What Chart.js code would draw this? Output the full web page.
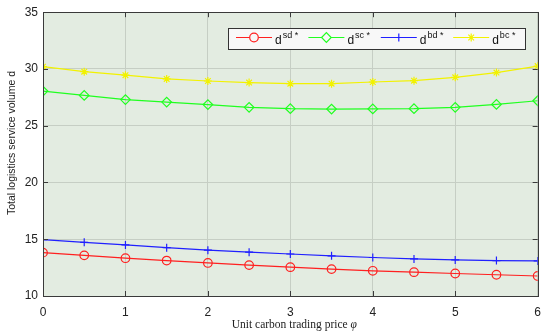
<!DOCTYPE html>
<html>
<head>
<meta charset="utf-8">
<script src="https://cdn.jsdelivr.net/npm/chart.js@4.4.1/dist/chart.umd.min.js"></script>
<style>
  html, body { margin: 0; padding: 0; background: #ffffff; }
  #wrap { width: 550px; height: 336px; }
</style>
</head>
<body>
<div id="wrap"><canvas id="chart" width="550" height="336"></canvas></div>
<script>
// carbon price values on the x axis
const prices = [0, 0.5, 1, 1.5, 2, 2.5, 3, 3.5, 4, 4.5, 5, 5.5, 6];

// total logistics service volume per scenario
const dSD = [13.82, 13.58, 13.33, 13.12, 12.91, 12.72, 12.54, 12.37, 12.22, 12.1, 11.98, 11.87, 11.76];
const dSC = [28.05, 27.67, 27.3, 27.08, 26.86, 26.62, 26.5, 26.47, 26.48, 26.5, 26.62, 26.88, 27.2];
const dBD = [14.97, 14.73, 14.5, 14.26, 14.04, 13.86, 13.7, 13.54, 13.39, 13.27, 13.18, 13.12, 13.09];
const dBC = [30.2, 29.76, 29.45, 29.12, 28.94, 28.8, 28.7, 28.7, 28.85, 28.97, 29.26, 29.68, 30.25];

const xTicks = [0, 1, 2, 3, 4, 5, 6];
const yTicks = [10, 15, 20, 25, 30, 35];

const seriesNames = ['sd', 'sc', 'bd', 'bc'];

const axisColor = '#3a3a3a';
const plotBg = '#e3ece1';
const gridColor = '#c6cec4';

function toPoints(ys) {
    return prices.map((x, i) => ({ x: x, y: ys[i] }));
}

function makeSet(name, ys, color, style, radius) {
    return {
        label: name,
        data: toPoints(ys),
        borderColor: color,
        backgroundColor: 'rgba(0,0,0,0)',
        borderWidth: 1.2,
        pointStyle: style,
        pointRadius: radius,
        pointBorderColor: color,
        pointBackgroundColor: 'rgba(0,0,0,0)',
        pointBorderWidth: 1.2,
        tension: 0
    };
}

// plot background + box with inward ticks, titles, legend
const matlabLook = {
    id: 'matlabLook',
    beforeDraw(chart) {
        const { ctx, chartArea: a } = chart;
        ctx.save();
        ctx.fillStyle = plotBg;
        ctx.fillRect(a.left, a.top, a.right - a.left, a.bottom - a.top);
        ctx.restore();
    },
    afterDraw(chart) {
        const { ctx, chartArea: a, scales } = chart;
        ctx.save();
        ctx.strokeStyle = axisColor;
        ctx.lineWidth = 1;
        ctx.strokeRect(Math.round(a.left) + 0.5, Math.round(a.top) + 0.5,
            Math.round(a.right - a.left), Math.round(a.bottom - a.top));

        const tl = 5;
        ctx.beginPath();
        xTicks.forEach(v => {
            const px = Math.round(scales.x.getPixelForValue(v)) + 0.5;
            ctx.moveTo(px, a.bottom); ctx.lineTo(px, a.bottom - tl);
            ctx.moveTo(px, a.top); ctx.lineTo(px, a.top + tl);
        });
        yTicks.forEach(v => {
            const py = Math.round(scales.y.getPixelForValue(v)) + 0.5;
            ctx.moveTo(a.left, py); ctx.lineTo(a.left + tl, py);
            ctx.moveTo(a.right, py); ctx.lineTo(a.right - tl, py);
        });
        ctx.stroke();

        // x title (serif, italic phi)
        ctx.fillStyle = '#222';
        ctx.textBaseline = 'middle';
        const xt1 = 'Unit carbon trading price ';
        const xt2 = 'φ';
        ctx.font = '11.5px "Liberation Serif", "Times New Roman", serif';
        const w1 = ctx.measureText(xt1).width;
        ctx.font = 'italic 11.5px "Liberation Serif", "Times New Roman", serif';
        const w2 = ctx.measureText(xt2).width;
        let sx = (a.left + a.right) / 2 - (w1 + w2) / 2 + 4;
        ctx.textAlign = 'left';
        ctx.font = '11.5px "Liberation Serif", "Times New Roman", serif';
        ctx.fillText(xt1, sx, 325);
        ctx.font = 'italic 11.5px "Liberation Serif", "Times New Roman", serif';
        ctx.fillText(xt2, sx + w1, 325);

        // y title
        ctx.save();
        ctx.translate(12, 143);
        ctx.rotate(-Math.PI / 2);
        ctx.textAlign = 'center';
        ctx.font = '10.5px "Liberation Sans", Arial, sans-serif';
        ctx.fillText('Total logistics service volume d', 0, 0);
        ctx.restore();

        // legend box
        const lx = 228, ly = 28, lw = 297, lh = 21;
        ctx.fillStyle = '#f8f8f8';
        ctx.fillRect(lx, ly, lw, lh);
        ctx.strokeStyle = '#333';
        ctx.strokeRect(lx + 0.5, ly + 0.5, lw, lh);

        chart.data.datasets.forEach((ds, i) => {
            const ex = 236 + i * 72.4;
            const ey = 37.5;
            ctx.strokeStyle = ds.borderColor;
            ctx.lineWidth = 1;
            ctx.beginPath();
            ctx.moveTo(ex, ey); ctx.lineTo(ex + 36, ey);
            ctx.stroke();
            ctx.fillStyle = '#f8f8f8';
            ctx.strokeStyle = ds.pointBorderColor;
            ctx.lineWidth = 1.2;
            Chart.helpers.drawPoint(ctx, {
                pointStyle: ds.pointStyle,
                radius: ds.pointRadius,
                borderWidth: 1.2,
                rotation: 0
            }, ex + 18, ey);
            ctx.fillStyle = '#111';
            ctx.textAlign = 'left';
            ctx.textBaseline = 'alphabetic';
            ctx.font = '12px "Liberation Sans", Arial, sans-serif';
            ctx.fillText('d', ex + 39, 44);
            const dw = ctx.measureText('d').width;
            ctx.font = '9px "Liberation Sans", Arial, sans-serif';
            ctx.fillText(seriesNames[i] + ' *', ex + 39 + dw + 1, 38);
        });
        ctx.restore();
    }
};

Chart.defaults.font.family = '"Liberation Sans", Arial, sans-serif';
Chart.defaults.color = '#222';

new Chart(document.getElementById('chart'), {
    type: 'line',
    data: {
        datasets: [
            makeSet('sd', dSD, '#ff2020', 'circle', 4.3),
            makeSet('sc', dSC, '#20ff20', 'rectRot', 4.8),
            makeSet('bd', dBD, '#2020ff', 'cross', 4),
            makeSet('bc', dBC, '#f2f200', 'star', 4)
        ]
    },
    plugins: [matlabLook],
    options: {
        responsive: false,
        animation: false,
        devicePixelRatio: 1,
        layout: { padding: { top: 8, right: 10, left: 0, bottom: 0 } },
        plugins: {
            legend: { display: false },
            tooltip: { enabled: false }
        },
        scales: {
            x: {
                type: 'linear',
                min: 0,
                max: 6,
                afterBuildTicks: s => { s.ticks = xTicks.map(v => ({ value: v })); },
                afterFit: s => { s.height = 40; },
                ticks: { font: { size: 12 }, color: '#222', padding: 9, maxRotation: 0 },
                grid: { color: gridColor, drawTicks: false },
                border: { display: false }
            },
            y: {
                type: 'linear',
                min: 10,
                max: 35,
                afterBuildTicks: s => { s.ticks = yTicks.map(v => ({ value: v })); },
                afterFit: s => { s.width = 43; },
                ticks: { font: { size: 12 }, color: '#222', padding: 5 },
                grid: { color: gridColor, drawTicks: false },
                border: { display: false }
            }
        }
    }
});
</script>
</body>
</html>
